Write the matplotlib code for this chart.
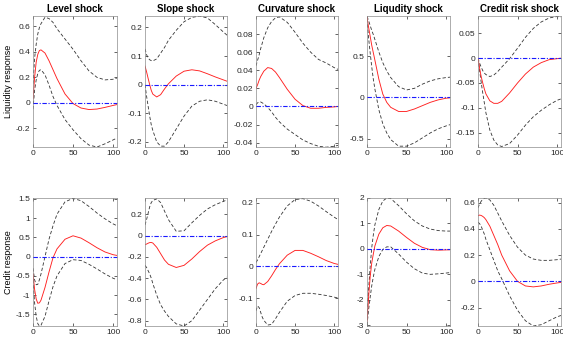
import matplotlib
matplotlib.use("Agg")
import matplotlib.pyplot as plt
from matplotlib.ticker import FuncFormatter

plt.rcParams['font.family'] = ['Liberation Sans', 'DejaVu Sans']
plt.rcParams['axes.unicode_minus'] = False

shocks = ["Level shock", "Slope shock", "Curvature shock", "Liqudity shock", "Credit risk shock"]
responses = ["Liquidity response", "Credit response"]
horizon = [0, 2, 4, 6, 8, 10, 15, 20, 25, 30, 40, 50, 60, 70, 80, 90, 100, 105]

# ---- Liquidity response (row 1) ----
liq_level_irf = [0.03, 0.2, 0.32, 0.38, 0.41, 0.415, 0.39, 0.33, 0.26, 0.19, 0.07, -0.005, -0.04, -0.052, -0.048, -0.035, -0.02, -0.013]
liq_level_up = [0.15, 0.35, 0.46, 0.54, 0.59, 0.62, 0.67, 0.66, 0.63, 0.58, 0.5, 0.42, 0.33, 0.25, 0.2, 0.18, 0.185, 0.195]
liq_level_lo = [-0.05, 0.1, 0.18, 0.23, 0.255, 0.26, 0.22, 0.14, 0.05, -0.02, -0.13, -0.21, -0.28, -0.33, -0.345, -0.32, -0.29, -0.275]

liq_slope_irf = [0.065, 0.045, 0.022, 0.0, -0.02, -0.033, -0.043, -0.035, -0.015, 0.003, 0.03, 0.047, 0.052, 0.048, 0.038, 0.027, 0.017, 0.012]
liq_slope_up = [0.125, 0.105, 0.093, 0.087, 0.084, 0.083, 0.09, 0.11, 0.13, 0.155, 0.19, 0.22, 0.235, 0.24, 0.233, 0.21, 0.185, 0.173]
liq_slope_lo = [0.0, -0.04, -0.075, -0.11, -0.14, -0.16, -0.2, -0.215, -0.215, -0.2, -0.155, -0.11, -0.075, -0.058, -0.053, -0.058, -0.068, -0.073]

liq_curv_irf = [0.02, 0.024, 0.029, 0.033, 0.036, 0.039, 0.043, 0.042, 0.038, 0.032, 0.019, 0.008, 0.001, -0.002, -0.002, -0.001, -0.0005, 0.0]
liq_curv_up = [0.045, 0.051, 0.057, 0.064, 0.07, 0.076, 0.087, 0.094, 0.098, 0.099, 0.093, 0.082, 0.07, 0.06, 0.052, 0.048, 0.043, 0.041]
liq_curv_lo = [0.002, 0.004, 0.005, 0.005, 0.004, 0.003, -0.001, -0.006, -0.012, -0.017, -0.025, -0.031, -0.037, -0.041, -0.044, -0.045, -0.044, -0.043]

liq_liq_irf = [0.97, 0.85, 0.74, 0.63, 0.54, 0.45, 0.22, 0.04, -0.06, -0.12, -0.17, -0.17, -0.14, -0.1, -0.06, -0.03, -0.01, -0.005]
liq_liq_up = [0.98, 0.93, 0.87, 0.81, 0.76, 0.7, 0.55, 0.42, 0.32, 0.24, 0.13, 0.09, 0.11, 0.16, 0.2, 0.225, 0.24, 0.245]
liq_liq_lo = [0.95, 0.72, 0.54, 0.37, 0.22, 0.1, -0.15, -0.32, -0.43, -0.51, -0.59, -0.59, -0.55, -0.49, -0.43, -0.38, -0.345, -0.33]

liq_cred_irf = [0.0, -0.02, -0.037, -0.05, -0.062, -0.072, -0.086, -0.091, -0.091, -0.087, -0.07, -0.05, -0.032, -0.018, -0.009, -0.003, -0.001, 0.0]
liq_cred_up = [0.0, -0.01, -0.018, -0.025, -0.03, -0.033, -0.037, -0.034, -0.027, -0.018, -0.001, 0.02, 0.042, 0.06, 0.073, 0.081, 0.084, 0.083]
liq_cred_lo = [0.0, -0.025, -0.048, -0.07, -0.09, -0.11, -0.145, -0.165, -0.175, -0.178, -0.172, -0.155, -0.135, -0.118, -0.105, -0.094, -0.085, -0.082]

# ---- Credit response (row 2) ----
cr_level_irf = [-0.45, -0.85, -1.1, -1.21, -1.2, -1.13, -0.8, -0.4, -0.03, 0.2, 0.45, 0.54, 0.48, 0.36, 0.23, 0.12, 0.05, 0.03]
cr_level_up = [-0.3, -0.6, -0.73, -0.72, -0.6, -0.45, 0.0, 0.45, 0.8, 1.1, 1.42, 1.51, 1.45, 1.3, 1.13, 0.98, 0.85, 0.8]
cr_level_lo = [-0.6, -1.2, -1.55, -1.74, -1.8, -1.78, -1.55, -1.15, -0.78, -0.5, -0.18, -0.08, -0.1, -0.2, -0.32, -0.45, -0.56, -0.6]

cr_slope_irf = [-0.085, -0.08, -0.072, -0.066, -0.065, -0.07, -0.11, -0.17, -0.23, -0.27, -0.3, -0.28, -0.22, -0.15, -0.09, -0.05, -0.02, -0.01]
cr_slope_up = [0.1, 0.15, 0.21, 0.27, 0.31, 0.33, 0.345, 0.31, 0.23, 0.15, 0.04, 0.045, 0.12, 0.19, 0.25, 0.29, 0.32, 0.335]
cr_slope_lo = [-0.28, -0.3, -0.33, -0.36, -0.4, -0.45, -0.56, -0.65, -0.71, -0.76, -0.83, -0.85, -0.8, -0.7, -0.6, -0.5, -0.42, -0.39]

cr_curv_irf = [-0.07, -0.056, -0.052, -0.054, -0.057, -0.058, -0.048, -0.03, -0.01, 0.008, 0.035, 0.05, 0.05, 0.041, 0.03, 0.018, 0.009, 0.006]
cr_curv_up = [0.012, 0.02, 0.03, 0.04, 0.05, 0.06, 0.085, 0.11, 0.133, 0.155, 0.19, 0.21, 0.213, 0.205, 0.19, 0.172, 0.155, 0.147]
cr_curv_lo = [-0.14, -0.125, -0.13, -0.145, -0.16, -0.17, -0.185, -0.183, -0.165, -0.145, -0.11, -0.092, -0.085, -0.085, -0.088, -0.092, -0.097, -0.1]

cr_liq_irf = [-2.85, -1.9, -1.1, -0.55, -0.2, 0.12, 0.58, 0.83, 0.92, 0.9, 0.7, 0.45, 0.22, 0.06, -0.03, -0.05, -0.04, -0.035]
cr_liq_up = [-2.7, -1.6, -0.7, 0.05, 0.55, 0.95, 1.55, 1.88, 2.0, 1.98, 1.7, 1.38, 1.1, 0.9, 0.78, 0.72, 0.7, 0.7]
cr_liq_lo = [-3.0, -2.4, -1.9, -1.45, -1.1, -0.8, -0.3, -0.02, 0.08, 0.08, -0.2, -0.52, -0.78, -0.95, -1.0, -0.98, -0.95, -0.93]

cr_cred_irf = [0.5, 0.505, 0.502, 0.495, 0.485, 0.47, 0.42, 0.35, 0.28, 0.2, 0.08, 0.0, -0.035, -0.042, -0.035, -0.022, -0.012, -0.008]
cr_cred_up = [0.56, 0.59, 0.61, 0.625, 0.632, 0.635, 0.62, 0.58, 0.52, 0.46, 0.35, 0.26, 0.2, 0.17, 0.16, 0.16, 0.165, 0.17]
cr_cred_lo = [0.45, 0.44, 0.42, 0.39, 0.36, 0.32, 0.24, 0.16, 0.08, 0.02, -0.11, -0.22, -0.3, -0.34, -0.33, -0.3, -0.27, -0.26]

panels = [
    [(liq_level_irf, liq_level_up, liq_level_lo),
     (liq_slope_irf, liq_slope_up, liq_slope_lo),
     (liq_curv_irf, liq_curv_up, liq_curv_lo),
     (liq_liq_irf, liq_liq_up, liq_liq_lo),
     (liq_cred_irf, liq_cred_up, liq_cred_lo)],
    [(cr_level_irf, cr_level_up, cr_level_lo),
     (cr_slope_irf, cr_slope_up, cr_slope_lo),
     (cr_curv_irf, cr_curv_up, cr_curv_lo),
     (cr_liq_irf, cr_liq_up, cr_liq_lo),
     (cr_cred_irf, cr_cred_up, cr_cred_lo)],
]

yticks = [
    [[-0.2, 0, 0.2, 0.4, 0.6], [-0.2, -0.1, 0, 0.1, 0.2], [-0.04, -0.02, 0, 0.02, 0.04, 0.06, 0.08],
     [-0.5, 0, 0.5], [-0.15, -0.1, -0.05, 0, 0.05]],
    [[-1.5, -1, -0.5, 0, 0.5, 1, 1.5], [-0.8, -0.6, -0.4, -0.2, 0, 0.2], [-0.1, 0, 0.1, 0.2],
     [-3, -2, -1, 0, 1, 2], [-0.2, 0, 0.2, 0.4, 0.6]],
]
ylims = [
    [(-0.345, 0.68), (-0.218, 0.24), (-0.0448, 0.1), (-0.6, 0.985), (-0.179, 0.085)],
    [(-1.8, 1.52), (-0.85, 0.353), (-0.188, 0.215), (-3.03, 2.0), (-0.34, 0.635)],
]
xticks = [0, 50, 100]

W, H = 563, 340
fig = plt.figure(figsize=(W / 100, H / 100), dpi=100)

lefts = [33, 145, 256, 367, 478]
rights = [117, 227, 338, 450, 561]
tops = [16, 198]
bottoms = [147, 326]

fmt = FuncFormatter(lambda v, p: ('%g' % round(v, 6)))
edge = '#262626'

for r in range(2):
    for c in range(5):
        l, rr = lefts[c], rights[c]
        t, b = tops[r], bottoms[r]
        ax = fig.add_axes([l / W, 1 - b / H, (rr - l) / W, (b - t) / H])
        irf, up, lo = panels[r][c]
        ax.plot(horizon, up, color='#333333', lw=0.6, ls=(0, (4, 2.5)))
        ax.plot(horizon, lo, color='#333333', lw=0.6, ls=(0, (4, 2.5)))
        ax.plot(horizon, irf, color='#ff2020', lw=0.65)
        ax.plot([0, 105], [0, 0], color='#1a1aff', lw=0.8,
                ls=(0, (4, 1.5, 1, 1.5)), zorder=3)
        ax.set_xlim(0, 105)
        ax.set_ylim(*ylims[r][c])
        ax.set_xticks(xticks)
        ax.set_yticks(yticks[r][c])
        ax.yaxis.set_major_formatter(fmt)
        ax.xaxis.set_major_formatter(fmt)
        ax.tick_params(direction='in', length=2, width=0.5, labelsize=6,
                       top=True, right=True, colors=edge, pad=2)
        for s in ax.spines.values():
            s.set_linewidth(0.5)
            s.set_color('#8c8c8c')
        if r == 0:
            ax.set_title(shocks[c], fontsize=7, fontweight='bold', pad=3)
        if c == 0:
            ax.set_ylabel(responses[r], fontsize=6.5, labelpad=2)

fig.savefig('out.png', dpi=100)
